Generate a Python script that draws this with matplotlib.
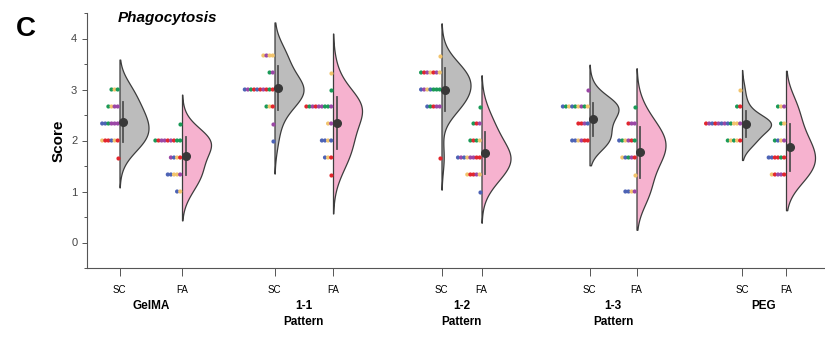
import numpy as np
import matplotlib.pyplot as plt
from matplotlib.ticker import MultipleLocator

# score levels (top to bottom) and the dots at each level, one letter per dot colour
levels = [11 / 3, 10 / 3, 3.0, 8 / 3, 7 / 3, 2.0, 5 / 3, 4 / 3, 1.0]

gelma_sc = ["", "", "gyg", "gypp", "bbgppp", "yrrbyr", "r", "", ""]
gelma_fa = ["", "", "", "", "g", "grpprprgg", "pbyr", "bbyyp", "by"]
p11_sc = ["ypyy", "gp", "bpgrbrprgr", "gyr", "p", "b", "", "", ""]
p11_fa = ["", "y", "g", "rgprppggp", "yp", "bbyb", "byr", "r", ""]
p12_sc = ["y", "grpyrpy", "bpybggg", "bgrpp", "", "", "r", "", ""]
p12_fa = ["", "", "", "g", "grp", "grgy", "bpbypprr", "yrrpy", "b"]
p13_sc = ["", "", "p", "bgybgypgy", "rrpb", "bbyprr", "", "", ""]
p13_fa = ["", "", "", "g", "rpp", "bgyprg", "ybgpr", "y", "bbyp"]
peg_sc = ["", "", "y", "gr", "rpbrpbpbgyyp", "gygyr", "", "", ""]
peg_fa = ["", "", "", "gyp", "gy", "gbyp", "bbrrgr", "yrppr", ""]

conditions = [gelma_sc, gelma_fa, p11_sc, p11_fa, p12_sc, p12_fa,
              p13_sc, p13_fa, peg_sc, peg_fa]
tick_labels = ["SC", "FA"] * 5
group_labels = ["GelMA", "1-1\nPattern", "1-2\nPattern", "1-3\nPattern", "PEG"]

# layout (x in pixel-like units)
positions = [119.5, 182, 274.5, 333, 441.5, 481.5, 589.5, 636.5, 742, 786]
dot_colors = {"b": "#4d63b5", "y": "#f2c46d", "p": "#9b47a5",
              "g": "#1a9a57", "r": "#e2262e"}
fills = ["#bcbcbc", "#f6b2cf"] * 5

plt.rcParams['font.family'] = ['Liberation Sans', 'DejaVu Sans']

fig = plt.figure(figsize=(8.25, 3.38), dpi=100)
ax = fig.add_axes([87 / 825, 70 / 338, 738 / 825, 255 / 338])

for rows, pos, fc in zip(conditions, positions, fills):
    vals = np.array([lv for lv, row in zip(levels, rows) for _ in row])
    n = len(vals)
    bw = 1.25 * vals.std(ddof=1) * n ** (-1 / 5)
    grid = np.linspace(vals.min() - 2.2 * bw, vals.max() + 2.2 * bw, 300)
    dens = np.exp(-0.5 * ((grid[:, None] - vals[None, :]) / bw) ** 2).sum(axis=1)
    dens = dens / dens.max() * 29
    ax.fill_betweenx(grid, pos, pos + dens, facecolor=fc, edgecolor='#3c3c3c',
                     linewidth=0.9, zorder=2)

    for lv, row in zip(levels, rows):
        k = len(row)
        xs = [pos - 1.8 - (k - 1 - i) * 3.1 for i in range(k)]
        ax.scatter(xs, [lv] * k, s=9, c=[dot_colors[c] for c in row],
                   linewidths=0, zorder=3)

    m = vals.mean()
    sd = vals.std(ddof=1)
    ax.plot([pos + 3.5, pos + 3.5], [m - sd, m + sd], color='#505050', lw=1.3, zorder=4)
    ax.plot(pos + 3.5, m, 'o', ms=5.5, color='#383838', zorder=5)

ax.set_xlim(87, 825)
ax.set_ylim(-0.5, 4.5)
ax.yaxis.set_major_locator(MultipleLocator(1))
ax.yaxis.set_minor_locator(MultipleLocator(0.5))
ax.set_yticks([0, 1, 2, 3, 4])
ax.tick_params(axis='y', which='major', labelsize=8, labelcolor='#444444',
               length=3.5, width=0.7, color='#555555')
ax.tick_params(axis='y', which='minor', length=2.5, width=0.7, color='#555555')
ax.set_xticks(positions)
ax.set_xticklabels(tick_labels)
ax.tick_params(axis='x', labelsize=7, length=6, width=0.7, color='#555555', pad=6)
for s in ['top', 'right']:
    ax.spines[s].set_visible(False)
for s in ['left', 'bottom']:
    ax.spines[s].set_color('#555555')
    ax.spines[s].set_linewidth(0.8)

for i, lab in enumerate(group_labels):
    cx = (positions[2 * i] + positions[2 * i + 1]) / 2
    ax.annotate(lab, xy=(cx, 0), xycoords=('data', 'axes fraction'),
                xytext=(0, -23), textcoords='offset points', ha='center', va='top',
                fontsize=8.5, fontweight='bold', linespacing=1.45)

ax.set_ylabel('Score', fontsize=11, fontweight='bold', labelpad=4)
ax.text(118, 4.4, 'Phagocytosis', fontsize=11, fontweight='bold', style='italic',
        ha='left', va='center')
fig.text(26 / 825, 1 - 29 / 338, 'C', fontsize=20, fontweight='bold',
         ha='center', va='center')

fig.savefig('out.png', dpi=100)
